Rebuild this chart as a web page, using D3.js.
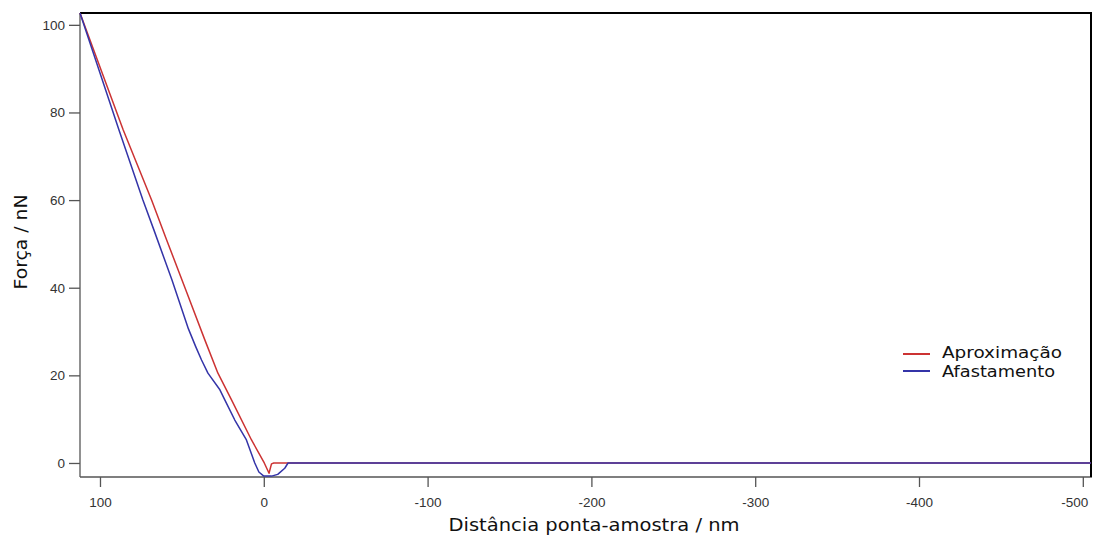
<!DOCTYPE html>
<html>
<head>
<meta charset="utf-8">
<script src="https://cdn.jsdelivr.net/npm/d3@7"></script>
<style>
  body { margin: 0; background: #fff; }
  svg { display: block; }
</style>
</head>
<body>
<svg width="1093" height="535"></svg>
<script>
// distance (nm) and force (nN)
const aproxX = [112.2, 85.8, 68.5, 59.3, 47.6, 36.0, 28.0, 19.7, 7.5, -0.3, -3.2, -4.7, -6.1, -100, -200, -300, -400, -505];
const aproxY = [102.7, 76.0, 60.0, 50.9, 39.5, 28.1, 20.5, 14.4, 5.25, 0, -2.35, -0.2, 0, 0, 0, 0, 0, 0];

const afastX = [112.2, 88.4, 73.8, 67.1, 56.1, 46.0, 41.5, 38.0, 34.1, 26.8, 23.8, 17.7, 10.6, 5.5, 3.0, 0, -4.7, -8.5, -12.8, -14.8, -100, -200, -300, -400, -505];
const afastY = [102.7, 76.0, 60.0, 53.2, 41.8, 30.6, 26.5, 23.5, 20.5, 16.7, 14.4, 9.8, 5.25, 0, -2.05, -3.0, -3.0, -2.6, -1.2, 0, 0, 0, 0, 0, 0];

const xTicks = [100, 0, -100, -200, -300, -400, -500];
const yTicks = [0, 20, 40, 60, 80, 100];

const series = [
  { name: "Aproximação", color: "#cc3333", xs: aproxX, ys: aproxY, width: 120 },
  { name: "Afastamento", color: "#3434a8", xs: afastX, ys: afastY, width: 113 }
];

const svg = d3.select("svg");
const m = { left: 80, right: 1091, top: 13, bottom: 477 };

const x = d3.scaleLinear().domain([112.2, -505]).range([m.left, m.right]);
const y = d3.scaleLinear().domain([-3.2, 102.7]).range([m.bottom, m.top]);

const line = d3.line()
  .x(d => x(d[0]))
  .y(d => y(d[1]));

// axes
const gx = svg.append("g")
  .attr("transform", `translate(0,${m.bottom})`)
  .call(d3.axisBottom(x).tickValues(xTicks).tickFormat(d => String(d))
    .tickSize(10).tickPadding(10).tickSizeOuter(0));

const gy = svg.append("g")
  .attr("transform", `translate(${m.left},0)`)
  .call(d3.axisLeft(y).tickValues(yTicks).tickFormat(d => String(d))
    .tickSize(11).tickPadding(4).tickSizeOuter(0));

[gx, gy].forEach(g => {
  g.selectAll("path, line").attr("stroke", "#555").attr("stroke-width", 1.3);
  g.selectAll("text")
    .attr("fill", "#333")
    .style("font", "13.5px 'Liberation Sans', Arial, sans-serif");
});
gx.select(".domain").attr("d", `M${m.left},0H${m.right + 1}`);
gy.select(".domain").attr("d", `M0,${m.top}V${m.bottom}`);

// last label is pushed inside the frame
gx.selectAll(".tick text").filter(d => d === -500)
  .attr("text-anchor", "end").attr("x", 5);

// black frame on top and right
svg.append("path")
  .attr("d", `M${m.left},${m.top}H${m.right}V${m.bottom}`)
  .attr("fill", "none")
  .attr("stroke", "#000")
  .attr("stroke-width", 2);

// curves
series.forEach(s => {
  svg.append("path")
    .datum(s.xs.map((v, i) => [v, s.ys[i]]))
    .attr("fill", "none")
    .attr("stroke", s.color)
    .attr("stroke-width", 1.5)
    .attr("stroke-linejoin", "round")
    .attr("d", line);
});

// legend
const legend = svg.append("g").attr("transform", "translate(903,354)");
series.forEach((s, i) => {
  legend.append("line")
    .attr("x1", 0).attr("x2", 27)
    .attr("y1", i * 17).attr("y2", i * 17)
    .attr("stroke", s.color).attr("stroke-width", 2);
  legend.append("text")
    .attr("x", 39).attr("y", 3.5 + i * 19)
    .style("font", "16.5px 'DejaVu Sans', Verdana, sans-serif")
    .attr("textLength", s.width)
    .attr("lengthAdjust", "spacingAndGlyphs")
    .attr("fill", "#111")
    .text(s.name);
});

// axis titles
svg.append("text")
  .attr("x", 594).attr("y", 531)
  .attr("text-anchor", "middle")
  .style("font", "17px 'DejaVu Sans', Verdana, sans-serif")
  .attr("textLength", 291)
  .attr("lengthAdjust", "spacingAndGlyphs")
  .attr("fill", "#111")
  .text("Distância ponta-amostra / nm");

svg.append("text")
  .attr("transform", "translate(27,242) rotate(-90)")
  .attr("text-anchor", "middle")
  .style("font", "17px 'DejaVu Sans', Verdana, sans-serif")
  .attr("textLength", 95)
  .attr("lengthAdjust", "spacingAndGlyphs")
  .attr("fill", "#111")
  .text("Força / nN");
</script>
</body>
</html>
